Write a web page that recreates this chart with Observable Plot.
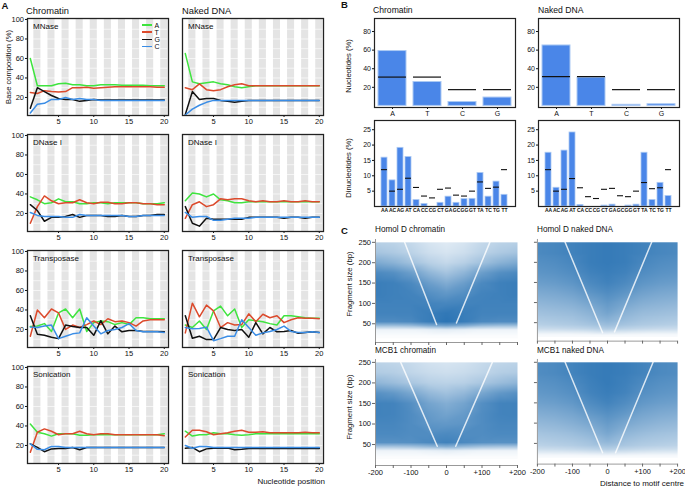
<!DOCTYPE html>
<html><head><meta charset="utf-8">
<script src="https://cdn.jsdelivr.net/npm/d3@7"></script>
<script src="https://cdn.jsdelivr.net/npm/@observablehq/plot@0.6"></script>
<style>
body{margin:0;background:#fff;}
#fig{position:relative;width:685px;height:489px;overflow:hidden;font-family:"Liberation Sans",Arial,Helvetica,sans-serif;color:#111;}
.t{position:absolute;white-space:nowrap;line-height:1;}
.plot{position:absolute;}
.rot{position:absolute;white-space:nowrap;line-height:1;transform:translate(-50%,-50%) rotate(-90deg);}
</style></head><body><div id="fig"></div>
<script>
// ---------- Panel A data ----------
const positions = [1,2,3,4,5,6,7,8,9,10,11,12,13,14,15,16,17,18,19,20];
const stripePositions = [2,4,6,8,10,12,14,16,18,20];
const bases4 = ["A","T","G","C"];
const baseColors = ["#3fe43f","#dc4a2c","#111111","#3a8de6"];

const mnChA = [60,32,32,32,34,34.5,33,33,32,32,33,33,33,32.5,32.5,32.5,32.5,32,32,32];
const mnChT = [25,24,27,26,25.5,26,30,30,30.5,29.5,30,30.5,31,31,31,31,31,31,30.5,30.5];
const mnChG = [9,30,26,22,19,18,18,16,17,18,17.5,17.5,17.5,17.5,17.5,17.5,17.5,17.5,17.5,17.5];
const mnChC = [4,13,14,18,18,20,18,19,18,18,17,17,17,17,17,17,17,17,17,17];
const mnNkA = [65,36,34,35,36,34,33,31,30,31,32,32,32,32,32,32,32,32,32,32];
const mnNkT = [30,28,34,28,27,28,31,33,34,32,32,32,32,32,32,32,32,32,32,32];
const mnNkG = [2.5,26,18,19,19,17,16,15,16,17,17,17,17,17,17,17,17,17,17,17];
const mnNkC = [2,8,12,15,17,17,17,17,17,17,17,17,17,17,17,17,17,17,17,17];

const dnChA = [37,34,30,31,35,32,32,30,30,31,31,30,31,31,31,31,30,30,30,31];
const dnChT = [10,27,38,33,30,31,31,34,31,30,31.5,31.5,30,30,31,31,30,30,29,29];
const dnChG = [29,23,12,16,16,17,19,16,18,18,18,17,17,18,17,17,18,18,19,19];
const dnChC = [21,18,17,17,17,16,16,19,18,18,18,18,18,18,17,17,18,18,18,18];
const dnNkA = [33,41,40,37,40,34,33,31,31,32,32,32,32,32,32,32,32,32,32,32];
const dnNkT = [15,29,32,27,29,35,34,35,35,33,32,33,32,32,33,32,32,33,32,32];
const dnNkG = [27,10,7,15,14,14,14,14,14,16,16,16,16,16,15,16,16,15,16,16];
const dnNkC = [21,16,17,17,13,13,14,15,15,15,16,16,16,16,16,16,16,16,16,16];

const tnChA = [23,23.5,26,18,37,41,32,41,18,27,28.7,28,25,27,25,32,32,31,31,31];
const tnChT = [13,40,32,41,37,20,24.5,22,25,28.7,25,31,28,28.7,27,23.5,28.7,30,30,30];
const tnChG = [34,15,14,12,10.6,24.5,23,22,22,14,29,15.5,23.5,17.6,19,19,18,18,18,17.6];
const tnChC = [22.4,22,23.5,24.5,10.6,13,15.5,16.5,32,23.5,15.5,19,20,22,26,19,17.6,17.6,17.6,17];
const tnNkA = [24.5,22,28.7,20,39,44,34,41,22,30,29,28,26,24.5,34,34,33,32,31.5,31.5];
const tnNkT = [16.5,47,33,45,39,22,27,24.5,25,36,28,35.6,32,34,27,30,32,31.5,31.5,31];
const tnNkG = [34,11,13,9.6,9.6,22,20,19,20,12,27,15.5,22,17.6,18,19,16,17,17.6,17];
const tnNkC = [22,20.7,21,22.4,8.5,10.6,13,13,30,22,14,16.5,18,20,23.5,18,17,17,17.6,17];

const snChA = [42,33.6,32,29.6,32,32,32,30.4,30.4,31,31,31,31,31,31,31,31,31,31,32];
const snChT = [13,33.6,37,34.6,31,32,32,34.6,32,31,32,32,31,31,31,31,31,31,31,30];
const snChG = [21.7,18,13.6,16.5,17,17,18,15.6,18,18,18,18,18,18,18,18,18,18,18,18];
const snChC = [21.7,16,15.6,19,19,18,18,18,18,18,18,18,18,18,18,18,18,18,18,18];
const snNkA = [34.6,29.6,31,31,33,32,32,31,30.4,31,32,32,32,32,32,32,32,32,32,32];
const snNkT = [28.7,35.6,35.6,34,31,32,33,34.6,35.6,33.6,33.6,34,33,33,33,33,33,33.6,33,33];
const snNkG = [17.2,18,13.6,16.5,17.2,17.2,17.5,15.6,16,17,17,17,17,17,17,17,17,17,17,17];
const snNkC = [20,17.2,19,19,18,18,18,18,18,18,18,18,18,18,18,18,18,18,18,18];

// ---------- Panel B data ----------
const monoBases = ["A","T","C","G"];
const monoChrom = [59,25.7,4.2,9];
const monoChromExp = [31,31,17.5,17.5];
const monoNaked = [65,30.4,1.2,1.8];
const monoNakedExp = [31.5,31.5,17.5,17.5];
const dinucs = ["AA","AC","AG","AT","CA","CC","CG","CT","GA","GC","GG","GT","TA","TC","TG","TT"];
const diChrom = [15.9,8.5,19.1,16.1,2.1,0.8,0,1.2,3.2,1.2,2.4,2.5,10.9,3.2,8.1,3.8];
const diChromExp = [12,5,5.6,9.2,6.2,3.4,2.8,5.6,6,3.7,3.4,5,8,5.9,6.3,12];
const diNaked = [17.5,6.1,18.2,24.1,0.5,0,0,0.3,0.6,0,0.3,0.6,17.5,2.1,7.7,3.4];
const diNakedExp = [12,5,5.6,9.1,6.1,3.2,2.6,5.6,5.9,3.5,3.2,5,7.8,5.8,6.1,12];

// ---------- Panel C data (density) ----------
const gridX = [-200,-150,-100,-50,0,50,100,150,200];
const gridY = [250,225,200,175,150,125,100,75,55,45,35,20];
const hdChrom = [
 [0.32,0.30,0.26,0.18,0.14,0.18,0.26,0.30,0.32],
 [0.40,0.36,0.30,0.22,0.18,0.22,0.30,0.36,0.40],
 [0.58,0.52,0.42,0.32,0.26,0.32,0.42,0.52,0.58],
 [0.80,0.76,0.66,0.50,0.40,0.50,0.66,0.76,0.80],
 [0.88,0.86,0.80,0.66,0.56,0.66,0.80,0.86,0.88],
 [0.88,0.86,0.84,0.76,0.70,0.76,0.84,0.86,0.88],
 [0.85,0.85,0.85,0.84,0.82,0.84,0.85,0.85,0.85],
 [0.84,0.84,0.84,0.88,0.92,0.88,0.84,0.84,0.84],
 [0.78,0.78,0.80,0.88,0.94,0.88,0.80,0.78,0.78],
 [0.42,0.42,0.45,0.55,0.62,0.55,0.45,0.42,0.42],
 [0.08,0.08,0.08,0.10,0.12,0.10,0.08,0.08,0.08],
 [0.02,0.02,0.02,0.02,0.02,0.02,0.02,0.02,0.02]];
const hdNaked = [
 [0.80,0.82,0.85,0.88,0.90,0.88,0.85,0.82,0.80],
 [0.80,0.82,0.85,0.88,0.90,0.88,0.85,0.82,0.80],
 [0.76,0.78,0.82,0.88,0.90,0.88,0.82,0.78,0.76],
 [0.72,0.74,0.78,0.85,0.88,0.85,0.78,0.74,0.72],
 [0.66,0.68,0.72,0.80,0.85,0.80,0.72,0.68,0.66],
 [0.58,0.60,0.64,0.72,0.78,0.72,0.64,0.60,0.58],
 [0.50,0.52,0.55,0.62,0.70,0.62,0.55,0.52,0.50],
 [0.42,0.44,0.46,0.52,0.62,0.52,0.46,0.44,0.42],
 [0.36,0.38,0.40,0.45,0.52,0.45,0.40,0.38,0.36],
 [0.32,0.34,0.36,0.40,0.45,0.40,0.36,0.34,0.32],
 [0.24,0.25,0.27,0.30,0.35,0.30,0.27,0.25,0.24],
 [0.04,0.04,0.04,0.05,0.06,0.05,0.04,0.04,0.04]];
const mcChrom = [
 [0.30,0.28,0.25,0.20,0.18,0.20,0.25,0.28,0.30],
 [0.35,0.33,0.28,0.24,0.22,0.24,0.28,0.33,0.35],
 [0.50,0.45,0.38,0.32,0.30,0.32,0.38,0.45,0.50],
 [0.75,0.70,0.60,0.48,0.42,0.48,0.60,0.70,0.75],
 [0.85,0.84,0.76,0.62,0.55,0.62,0.76,0.84,0.85],
 [0.85,0.84,0.78,0.68,0.62,0.68,0.78,0.84,0.85],
 [0.82,0.82,0.78,0.72,0.70,0.72,0.78,0.82,0.82],
 [0.80,0.80,0.78,0.78,0.80,0.78,0.78,0.80,0.80],
 [0.75,0.75,0.76,0.80,0.85,0.80,0.76,0.75,0.75],
 [0.40,0.40,0.42,0.48,0.55,0.48,0.42,0.40,0.40],
 [0.08,0.08,0.08,0.10,0.12,0.10,0.08,0.08,0.08],
 [0.02,0.02,0.02,0.02,0.02,0.02,0.02,0.02,0.02]];
const mcNaked = [
 [0.78,0.80,0.84,0.88,0.90,0.88,0.84,0.80,0.78],
 [0.78,0.80,0.84,0.88,0.90,0.88,0.84,0.80,0.78],
 [0.74,0.76,0.80,0.86,0.90,0.86,0.80,0.76,0.74],
 [0.70,0.72,0.76,0.84,0.88,0.84,0.76,0.72,0.70],
 [0.64,0.66,0.70,0.78,0.84,0.78,0.70,0.66,0.64],
 [0.56,0.58,0.62,0.70,0.76,0.70,0.62,0.58,0.56],
 [0.48,0.50,0.54,0.60,0.68,0.60,0.54,0.50,0.48],
 [0.40,0.42,0.45,0.50,0.60,0.50,0.45,0.42,0.40],
 [0.34,0.36,0.38,0.42,0.50,0.42,0.38,0.36,0.34],
 [0.30,0.32,0.34,0.38,0.42,0.38,0.34,0.32,0.30],
 [0.22,0.23,0.25,0.28,0.32,0.28,0.25,0.23,0.22],
 [0.04,0.04,0.04,0.05,0.06,0.05,0.04,0.04,0.04]];
// white V lines: x, y, side
const vSide = ["L","L","R","R"];
const hdChromVX = [-118,-28,28,122], hdChromVY = [250,48,52,250];
const hdNakedVX = [-121,-14,20,126], hdNakedVY = [250,25,27,250];
const mcChromVX = [-129,-26,26,129], mcChromVY = [250,46,46,250];
const mcNakedVX = [-121,-14,23,130], mcNakedVY = [250,27,27,250];
const xTicksC = [-200,-150,-100,-50,0,50,100,150,200];
const yTicksC = [50,100,150,200,250];

// ---------- helpers ----------
const FONT = "Liberation Sans, Arial, Helvetica, sans-serif";
const fig = document.getElementById("fig");
function place(node, left, top) {
  const d = document.createElement("div");
  d.className = "plot"; d.style.left = left + "px"; d.style.top = top + "px";
  d.appendChild(node); fig.appendChild(d);
}
function text(str, left, baseline, size, extra) {
  const d = document.createElement("div");
  d.className = "t"; d.textContent = str;
  d.style.fontSize = size + "px";
  d.style.left = left + "px"; d.style.top = (baseline - size * 0.86) + "px";
  if (extra) Object.assign(d.style, extra);
  fig.appendChild(d); return d;
}
function textRight(str, right, baseline, size) {
  const d = text(str, 0, baseline, size);
  d.style.left = ""; d.style.right = (685 - right) + "px";
}
function rot(str, cx, cy, size) {
  const d = document.createElement("div");
  d.className = "rot"; d.textContent = str; d.style.fontSize = size + "px";
  d.style.left = cx + "px"; d.style.top = cy + "px"; fig.appendChild(d);
}
const style = (fs) => ({fontFamily: FONT, fontSize: fs, background: "transparent", color: "#111", overflow: "visible"});

// ---------- Panel A ----------
function baseComp(name, series, showY) {
  const data = [];
  series.forEach((arr, k) => arr.forEach((v, i) => data.push({pos: positions[i], v, b: bases4[k]})));
  const ml = showY ? 27 : 5;
  return Plot.plot({
    width: ml + 141 + 6, height: 2 + 97 + 13,
    marginLeft: ml, marginRight: 6, marginTop: 2, marginBottom: 13,
    style: style("7.5px"),
    x: {domain: [0.6, 20.6], ticks: [5,10,15,20], tickSize: 2, tickPadding: 1.5, label: null},
    y: {domain: [1.5, 101], ticks: [20,40,60,80,100], tickSize: 2, tickPadding: 1.5, label: null, axis: showY ? "left" : null},
    color: {domain: bases4, range: baseColors},
    marks: [
      Plot.rect(stripePositions, {x1: d => d - 0.5, x2: d => d + 0.5, fill: "#e4e4e4"}),
      Plot.ruleY([10,20,30,40,50,60,70,80,90], {stroke: "#ffffff", strokeWidth: 0.8, strokeOpacity: 0.8}),
      Plot.line(data, {x: "pos", y: "v", z: "b", stroke: "b", strokeWidth: 1.5}),
      Plot.frame({stroke: "#222", strokeWidth: 1.3}),
      Plot.text([name], {frameAnchor: "top-left", dx: 5.5, dy: 4.5, fontSize: 8, textAnchor: "start", lineAnchor: "top", fill: "#111"})
    ]
  });
}
const rowsA = [
  {name: "MNase", top: 18, ch: [mnChA,mnChT,mnChG,mnChC], nk: [mnNkA,mnNkT,mnNkG,mnNkC]},
  {name: "DNase I", top: 134, ch: [dnChA,dnChT,dnChG,dnChC], nk: [dnNkA,dnNkT,dnNkG,dnNkC]},
  {name: "Transposase", top: 250, ch: [tnChA,tnChT,tnChG,tnChC], nk: [tnNkA,tnNkT,tnNkG,tnNkC]},
  {name: "Sonication", top: 366, ch: [snChA,snChT,snChG,snChC], nk: [snNkA,snNkT,snNkG,snNkC]}
];
rowsA.forEach(r => {
  place(baseComp(r.name, r.ch, true), 0, r.top - 2);
  place(baseComp(r.name, r.nk, false), 177, r.top - 2);
});
// legend
bases4.forEach((b, i) => {
  const y = 25 + i * 7.2;
  const ln = document.createElement("div");
  ln.style.cssText = `position:absolute;left:142px;top:${y - 0.75}px;width:10px;height:1.5px;background:${baseColors[i]}`;
  fig.appendChild(ln);
  text(b, 154.5, y + 2.6, 7);
});
text("A", 1.5, 9, 9.5, {fontWeight: "bold"});
text("Chromatin", 26, 15, 9.3);
text("Naked DNA", 182, 15, 9.3);
rot("Base composition (%)", 9, 67, 7.6);
textRight("Nucleotide position", 325, 485, 8);

// ---------- Panel B ----------
function monoPlot(vals, exp) {
  const data = monoBases.map((b, i) => ({b, v: vals[i], e: exp[i]}));
  return Plot.plot({
    width: 14 + 141 + 4, height: 2 + 89 + 12,
    marginLeft: 14, marginRight: 4, marginTop: 2, marginBottom: 12,
    style: style("7px"),
    x: {domain: monoBases, paddingInner: 0.2, paddingOuter: 0.1, tickSize: 2, tickPadding: 1.5, label: null},
    y: {domain: [-1.7, 94], ticks: [20,40,60,80], tickSize: 2, tickPadding: 1.5, label: null},
    marks: [
      Plot.barY(data, {x: "b", y1: 0, y2: "v", fill: "#4a86e8", stroke: "#abc9f3", strokeWidth: 1}),
      Plot.tickY(data, {x: "b", y: "e", stroke: "#111", strokeWidth: 1.2}),
      Plot.frame({stroke: "#222", strokeWidth: 1.2})
    ]
  });
}
function diPlot(vals, exp) {
  const data = dinucs.map((b, i) => ({b, v: vals[i], e: exp[i]}));
  return Plot.plot({
    width: 14 + 141 + 4, height: 2 + 86 + 10,
    marginLeft: 14, marginRight: 4, marginTop: 2, marginBottom: 10,
    style: style("7px"),
    x: {domain: dinucs, paddingInner: 0.22, paddingOuter: 0.15, label: null},
    y: {domain: [0, 28], label: null},
    marks: [
      Plot.barY(data, {x: "b", y1: 0, y2: "v", fill: "#4a86e8", stroke: "#abc9f3", strokeWidth: 0.8}),
      Plot.tickY(data, {x: "b", y: "e", stroke: "#111", strokeWidth: 1.1}),
      Plot.axisX({tickSize: 1, tickPadding: 1, fontSize: 5, fontWeight: "bold", label: null}),
      Plot.axisY({ticks: [5,10,15,20,25], tickSize: 2, tickPadding: 1.5, label: null}),
      Plot.frame({stroke: "#222", strokeWidth: 1.2})
    ]
  });
}
place(monoPlot(monoChrom, monoChromExp), 360, 16);
place(monoPlot(monoNaked, monoNakedExp), 524, 16);
place(diPlot(diChrom, diChromExp), 360, 118);
place(diPlot(diNaked, diNakedExp), 524, 118);
text("B", 341, 8, 9.5, {fontWeight: "bold"});
text("Chromatin", 373, 13.5, 8.6);
text("Naked DNA", 538, 13.5, 8.6);
rot("Nucleotides (%)", 349, 66, 7.6);
rot("Dinucleotides (%)", 349, 168, 7.6);

// ---------- Panel C ----------
const fmtC = d => (d % 100 !== 0) ? "" : (d > 0 ? "+" + d : String(d));
function scatter(dens, vx, vy, yDomain, h, showY, showX) {
  const cells = [];
  gridY.forEach((yv, r) => gridX.forEach((xv, c) => cells.push({gx: xv, gy: yv, d: dens[r][c]})));
  const vline = vx.map((x, i) => ({vx: x, vy: vy[i], s: vSide[i]}));
  const ml = showY ? 20 : 6, mb = showX ? 12 : 4;
  return Plot.plot({
    width: ml + 142 + 8, height: 2 + h + mb,
    marginLeft: ml, marginRight: 8, marginTop: 2, marginBottom: mb,
    style: style("7.5px"),
    x: {domain: [-200, 200], label: null},
    y: {domain: yDomain, label: null},
    color: {type: "linear", domain: [0, 1], range: ["#ffffff", "#1f6cb0"]},
    marks: [
      Plot.raster(cells, {x: "gx", y: "gy", fill: "d", interpolate: "barycentric", x1: -200, x2: 200, y1: 15, y2: 250}),
      Plot.line(vline, {x: "vx", y: "vy", z: "s", stroke: "#ffffff", strokeWidth: 1.5, strokeOpacity: 0.8}),
      Plot.ruleX([-200], {stroke: "#999", strokeWidth: 1}),
      Plot.ruleY([yDomain[0]], {stroke: "#999", strokeWidth: 1}),
      Plot.axisX({ticks: xTicksC, tickSize: 3, tickPadding: 1.5, stroke: "#666", tickFormat: showX ? fmtC : () => "", label: null}),
      Plot.axisY({ticks: yTicksC, tickSize: 3, tickPadding: 1.5, stroke: "#666", tickFormat: showY ? (d => String(d)) : () => "", label: null})
    ]
  });
}
place(scatter(hdChrom, hdChromVX, hdChromVY, [4, 257], 103, true, false), 355, 237);
place(scatter(hdNaked, hdNakedVX, hdNakedVY, [4, 257], 103, false, false), 531, 237);
place(scatter(mcChrom, mcChromVX, mcChromVY, [-1, 257], 106, true, true), 355, 357);
place(scatter(mcNaked, mcNakedVX, mcNakedVY, [-1, 257], 106, false, true), 531, 357);
text("C", 341, 234, 9.5, {fontWeight: "bold"});
text("Homol D chromatin", 375, 233.5, 8.2);
text("Homol D naked DNA", 537, 233.5, 8.2);
text("MCB1 chromatin", 375, 354.5, 8.2);
text("MCB1 naked DNA", 537, 354.5, 8.2);
rot("Fragment size (bp)", 350, 284, 7.8);
rot("Fragment size (bp)", 350, 407, 7.8);
textRight("Distance to motif centre", 684, 486.5, 8);
</script></body></html>
